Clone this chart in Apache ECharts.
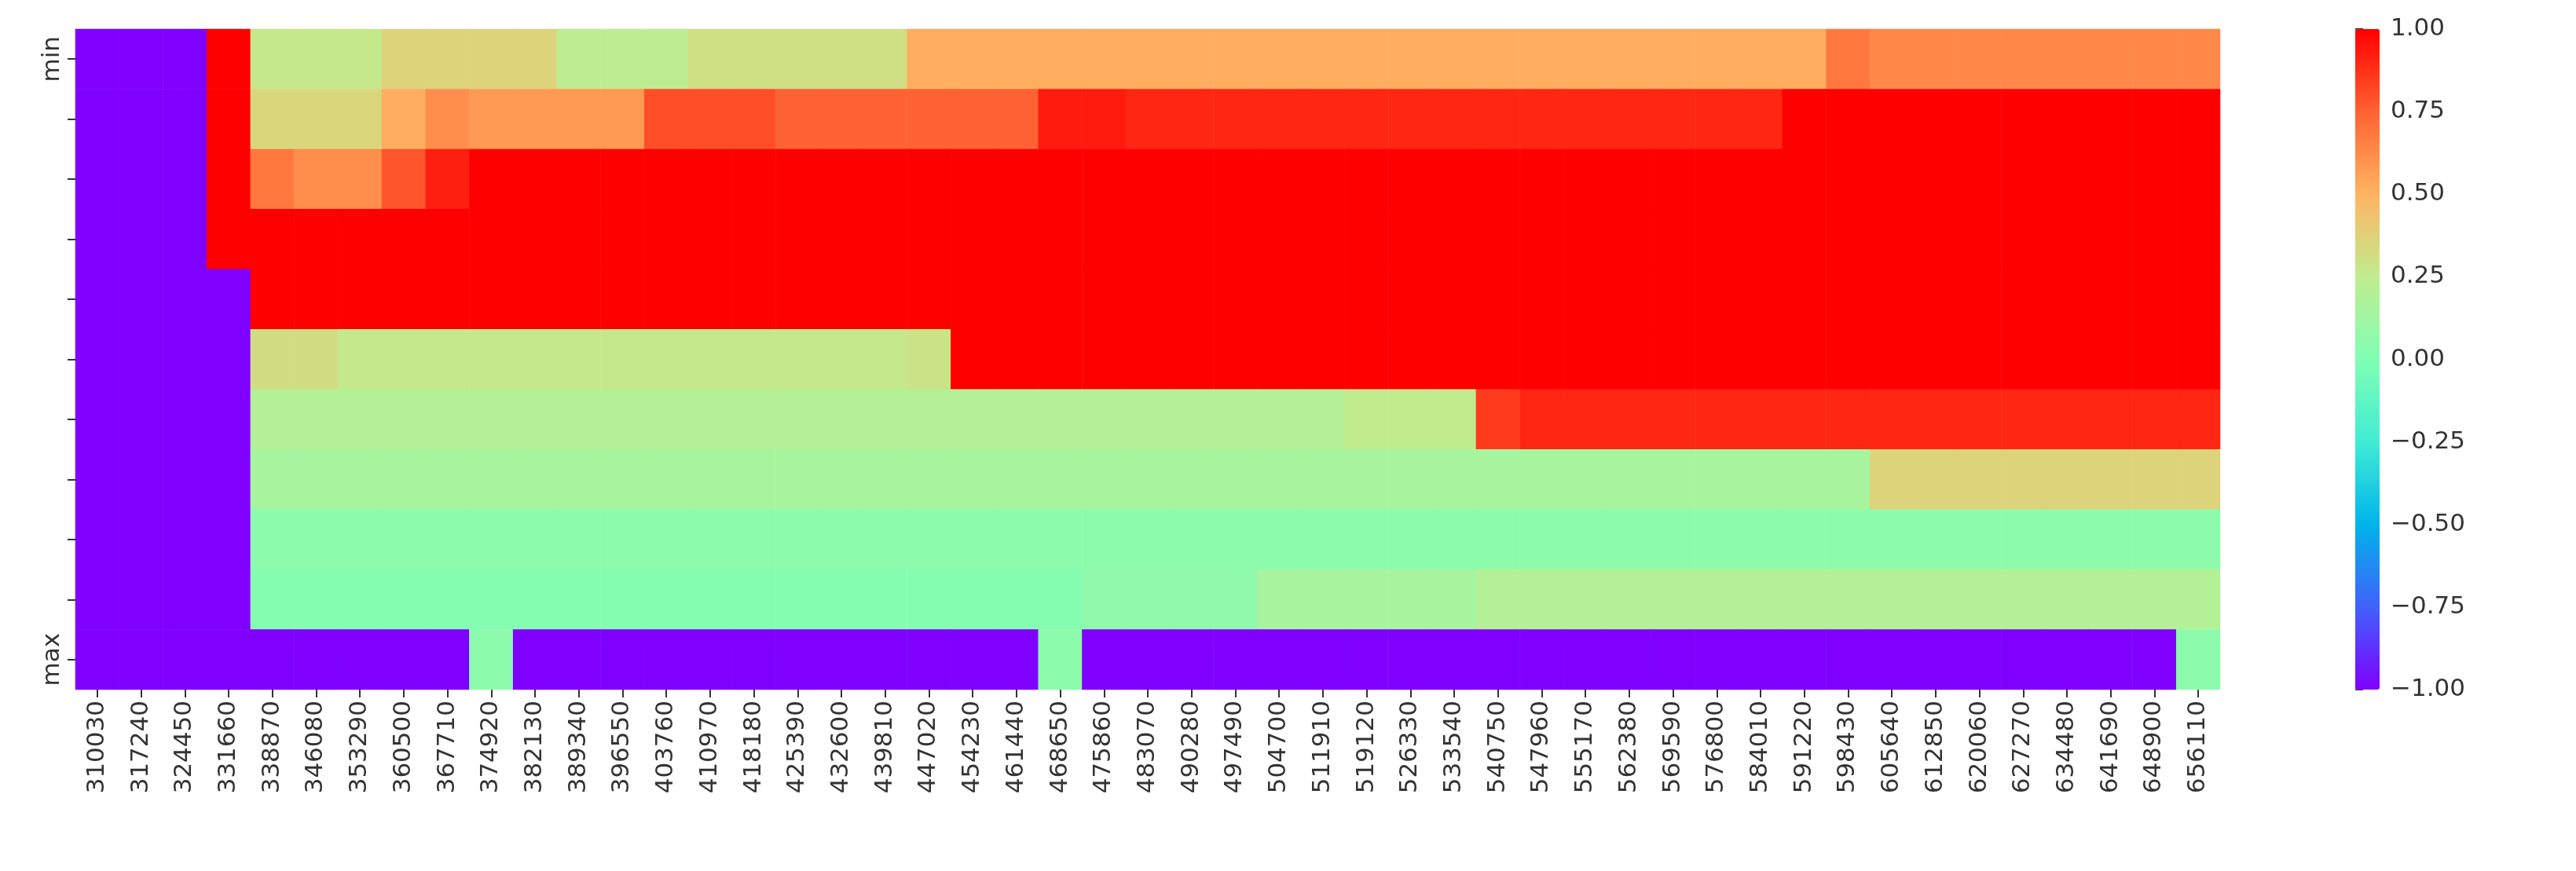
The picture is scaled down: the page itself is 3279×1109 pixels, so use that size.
<!DOCTYPE html>
<html lang="en">
<head>
    <meta charset="UTF-8">
    <title>heatmap</title>
    <script src="https://cdn.jsdelivr.net/npm/echarts@6/dist/echarts.min.js"></script>
    <style>
        *{ margin: 0; padding: 0; }
        .container{ width: 3279px; height: 1109px; }
    </style>
</head>
<body>
<div class="container"></div>
<script>
    // x categories
    let columns = ['310030','317240','324450','331660','338870','346080','353290','360500','367710','374920',
        '382130','389340','396550','403760','410970','418180','425390','432600','439810','447020',
        '454230','461440','468650','475860','483070','490280','497490','504700','511910','519120',
        '526330','533540','540750','547960','555170','562380','569590','576800','584010','591220',
        '598430','605640','612850','620060','627270','634480','641690','648900','656110'];
    let rowLabels = ['min','','','','','','','','','','max'];

    // each row as runs of [value, count], read left to right
    let row0 = [[-1,3],[1,1],[0.27,3],[0.36,4],[0.24,3],[0.31,5],[0.52,21],[0.68,1],[0.63,8]];
    let row1 = [[-1,3],[1,1],[0.35,3],[0.52,1],[0.62,1],[0.58,4],[0.8,3],[0.75,6],[0.93,2],[0.9,15],[1,10]];
    let row2 = [[-1,3],[1,1],[0.68,1],[0.62,2],[0.78,1],[0.92,1],[1,40]];
    let row3 = [[-1,3],[1,46]];
    let row4 = [[-1,4],[1,45]];
    let row5 = [[-1,4],[0.32,2],[0.27,13],[0.29,1],[1,29]];
    let row6 = [[-1,4],[0.2,25],[0.25,3],[0.85,1],[0.9,16]];
    let row7 = [[-1,4],[0.15,37],[0.36,8]];
    let row8 = [[-1,4],[0.05,45]];
    let row9 = [[-1,4],[0.02,19],[0.06,4],[0.15,5],[0.2,17]];
    let row10 = [[-1,9],[0.05,1],[-1,12],[0.05,1],[-1,25],[0.05,1]];
    let rows = [row0,row1,row2,row3,row4,row5,row6,row7,row8,row9,row10];

    let data = [];
    rows.forEach((runs, r) => {
        let c = 0;
        runs.forEach(([v, n]) => {
            for (let k = 0; k < n; k++) { data.push([c, r, v]); c++; }
        });
    });

    let font = 'DejaVu Sans';
    let txt = {color: '#333', fontSize: 31, fontFamily: font};
    let minus = v => v.toFixed(2).replace('-', '\u2212');

    let chart = echarts.init(document.querySelector('.container'));
    chart.setOption({
        backgroundColor: '#fff',
        animation: false,
        grid: [
            {left: 96, top: 37, width: 2730, height: 841},
            {left: 2998, top: 37, width: 31, height: 841}
        ],
        xAxis: [{
            type: 'category', data: columns, gridIndex: 0,
            axisLine: {show: false},
            axisTick: {show: true, alignWithLabel: true, length: 10, lineStyle: {color: '#333', width: 2}},
            axisLabel: Object.assign({rotate: 90, interval: 0, margin: 14}, txt),
            splitArea: {show: false}
        }, {
            type: 'value', gridIndex: 1, show: false
        }],
        yAxis: [{
            type: 'category', data: rowLabels, gridIndex: 0, inverse: true,
            axisLine: {show: false},
            axisTick: {show: true, alignWithLabel: true, interval: 0, length: 10, lineStyle: {color: '#333', width: 2}},
            axisLabel: Object.assign({rotate: 90, interval: 0, margin: 14}, txt)
        }, {
            type: 'value', gridIndex: 1, min: -1, max: 1, interval: 0.25, position: 'right',
            axisLine: {show: false}, splitLine: {show: false},
            axisTick: {show: true, length: 10, lineStyle: {color: '#333', width: 2}},
            axisLabel: Object.assign({margin: 14, formatter: minus}, txt)
        }],
        visualMap: {
            type: 'continuous', min: -1, max: 1, seriesIndex: 0, calculable: false,
            left: 2998, top: 37, itemWidth: 31, itemHeight: 841, padding: 0,
            text: ['', ''], showLabel: false,
            inRange: {color: ['#8000ff','#4062fa','#00b4eb','#40ecd4','#80ffb4','#c0ec8e','#ffb462','#ff6232','#ff0000']}
        },
        series: [{
            type: 'heatmap', data: data, xAxisIndex: 0, yAxisIndex: 0
        }]
    });
</script>
</body>
</html>
